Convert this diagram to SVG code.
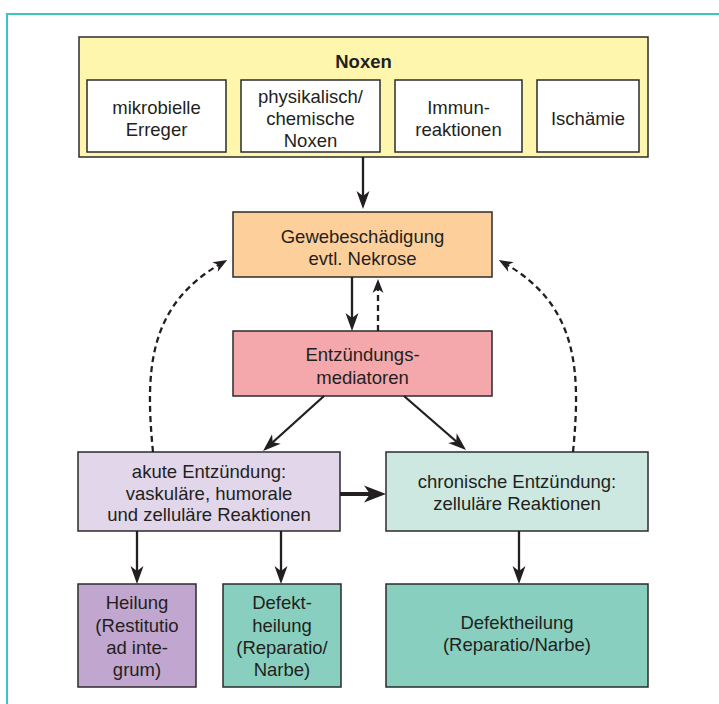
<svg xmlns="http://www.w3.org/2000/svg" width="719" height="704" viewBox="0 0 719 704">
<style>
  .box { stroke: #2b2b2b; stroke-width: 1.5; }
  .t { font-family: "Liberation Sans", Arial, sans-serif; font-size: 18.5px; fill: #231f20; text-anchor: middle; }
  .b { font-weight: bold; }
  .ln { fill: none; stroke: #231f20; stroke-width: 2.3; }
  .dash { fill: none; stroke: #231f20; stroke-width: 2.3; stroke-dasharray: 6 4; }
  .thick { fill: none; stroke: #231f20; stroke-width: 4.2; }
</style>
<defs>
  <marker id="ah" viewBox="-19 -7 20 14" refX="-6" refY="0" markerWidth="20" markerHeight="14" markerUnits="userSpaceOnUse" orient="auto">
    <path d="M0,0 L-18,-6.5 L-13,0 L-18,6.5 Z" fill="#231f20"/>
  </marker>
  <marker id="ahs" viewBox="-15 -6 16 12" refX="-6" refY="0" markerWidth="16" markerHeight="12" markerUnits="userSpaceOnUse" orient="auto">
    <path d="M0,0 L-14,-5.5 L-10,0 L-14,5.5 Z" fill="#231f20"/>
  </marker>
  <marker id="aht" viewBox="-23 -9 24 18" refX="-8" refY="0" markerWidth="24" markerHeight="18" markerUnits="userSpaceOnUse" orient="auto">
    <path d="M0,0 L-22,-8.5 L-16,0 L-22,8.5 Z" fill="#231f20"/>
  </marker>
</defs>
<rect width="719" height="704" fill="#ffffff"/>
<path d="M7,704 L7,14 L719,14" fill="none" stroke="#3cc6bd" stroke-width="2"/>

<g id="noxen">
  <rect class="box" x="79" y="37" width="569" height="120" fill="#fff6ae"/>
  <text class="t b" x="363.5" y="68">Noxen</text>
</g>
<g id="mikrobielle">
  <rect class="box" x="87" y="80" width="139" height="72" fill="#ffffff"/>
  <text class="t" x="156.5" y="114">mikrobielle</text>
  <text class="t" x="156.5" y="136">Erreger</text>
</g>
<g id="physikalisch">
  <rect class="box" x="241" y="80" width="139" height="72" fill="#ffffff"/>
  <text class="t" x="310.5" y="103">physikalisch/</text>
  <text class="t" x="310.5" y="125">chemische</text>
  <text class="t" x="310.5" y="147">Noxen</text>
</g>
<g id="immun">
  <rect class="box" x="395" y="80" width="127" height="72" fill="#ffffff"/>
  <text class="t" x="458.5" y="114">Immun-</text>
  <text class="t" x="458.5" y="136">reaktionen</text>
</g>
<g id="ischaemie">
  <rect class="box" x="537" y="80" width="102" height="72" fill="#ffffff"/>
  <text class="t" x="588" y="125">Ischämie</text>
</g>

<g id="gewebe">
  <rect class="box" x="233" y="212" width="259" height="65" fill="#fdcf9b"/>
  <text class="t" x="362.5" y="243">Gewebeschädigung</text>
  <text class="t" x="362.5" y="265">evtl. Nekrose</text>
</g>
<g id="mediatoren">
  <rect class="box" x="233" y="331" width="259" height="65" fill="#f4a8ac"/>
  <text class="t" x="362.5" y="361">Entzündungs-</text>
  <text class="t" x="362.5" y="384">mediatoren</text>
</g>
<g id="akut">
  <rect class="box" x="78" y="452" width="262" height="79" fill="#e1d6ea"/>
  <text class="t" x="209" y="478">akute Entzündung:</text>
  <text class="t" x="209" y="500">vaskuläre, humorale</text>
  <text class="t" x="209" y="521">und zelluläre Reaktionen</text>
</g>
<g id="chronisch">
  <rect class="box" x="386" y="452" width="262" height="79" fill="#cce8e0"/>
  <text class="t" x="517" y="488">chronische Entzündung:</text>
  <text class="t" x="517" y="510">zelluläre Reaktionen</text>
</g>
<g id="heilung">
  <rect class="box" x="78" y="584" width="118" height="103" fill="#c1a6cf"/>
  <text class="t" x="137" y="609">Heilung</text>
  <text class="t" x="137" y="632">(Restitutio</text>
  <text class="t" x="137" y="654">ad inte-</text>
  <text class="t" x="137" y="676">grum)</text>
</g>
<g id="defekt">
  <rect class="box" x="223" y="584" width="118" height="103" fill="#89cfbf"/>
  <text class="t" x="282" y="609">Defekt-</text>
  <text class="t" x="282" y="632">heilung</text>
  <text class="t" x="282" y="654">(Reparatio/</text>
  <text class="t" x="282" y="676">Narbe)</text>
</g>
<g id="defektheilung">
  <rect class="box" x="386" y="584" width="262" height="103" fill="#89cfbf"/>
  <text class="t" x="517" y="629">Defektheilung</text>
  <text class="t" x="517" y="651">(Reparatio/Narbe)</text>
</g>

<g id="connectors">
  <path class="ln" d="M363,157 L363,203" marker-end="url(#ah)"/>
  <path class="ln" d="M352,277 L352,325" marker-end="url(#ah)"/>
  <path class="dash" d="M378,331 L378,285" marker-end="url(#ahs)"/>
  <path class="ln" d="M324,396 L267.5,447" marker-end="url(#ah)"/>
  <path class="ln" d="M404,396 L461.5,446" marker-end="url(#ah)"/>
  <path class="thick" d="M340,494 L378,494" marker-end="url(#aht)"/>
  <path class="ln" d="M137,531 L137,578" marker-end="url(#ah)"/>
  <path class="ln" d="M281,531 L281,578" marker-end="url(#ah)"/>
  <path class="ln" d="M519,531 L519,578" marker-end="url(#ah)"/>
  <path class="dash" d="M153,452 C145,370 148,305 222,263" marker-end="url(#ahs)"/>
  <path class="dash" d="M573,452 C581,370 578,305 504,263" marker-end="url(#ahs)"/>
</g>
</svg>
